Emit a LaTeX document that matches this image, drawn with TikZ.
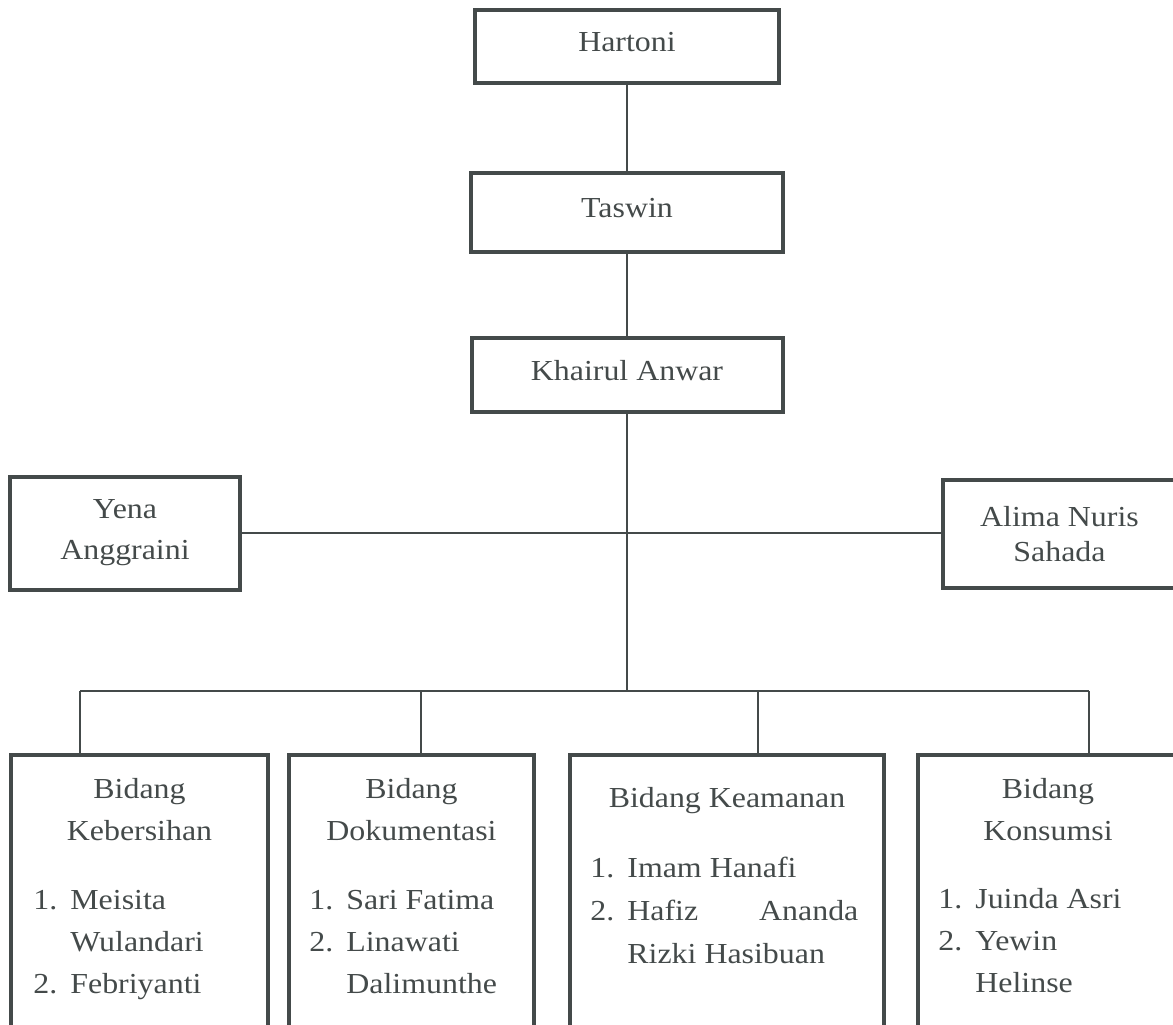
\documentclass[tikz,border=0pt]{standalone}
\usepackage{fontspec}
\setmainfont{Liberation Serif}[FakeStretch=1.1]
\definecolor{ink}{RGB}{68,74,74}
\newcommand{\nomor}[1]{\makebox[18.5pt][l]{#1}}
\newcommand{\lanjut}{\hspace*{18.5pt}}

\begin{document}
\begin{tikzpicture}[x=0.5pt,y=-0.5pt]

	\tikzstyle{box} = [draw=ink, line width=2pt, text=ink, align=center, inner sep=0pt, font=\fontsize{14.5}{21}\selectfont];
	\tikzstyle{teks} = [text=ink, inner sep=0pt, font=\fontsize{14.5}{21}\selectfont];
	\tikzstyle{garis} = [draw=ink, line width=1pt];

	\useasboundingbox (0,0) rectangle (1173,1024);
	\clip (0,0) rectangle (1173,1024);

	% pimpinan
	\node[box, minimum width=152pt, minimum height=36.5pt, text depth=5pt] (hartoni) at (627,46.5) {Hartoni};
	\node[box, minimum width=156pt, minimum height=39.5pt, text depth=5pt, below of=hartoni, node distance=83pt] (taswin) {Taswin};
	\node[box, minimum width=155.5pt, minimum height=37pt, text depth=5pt, below of=taswin, node distance=81.25pt] (khairul) {Khairul Anwar};

	\node[box, minimum width=115pt, minimum height=56.5pt, font=\fontsize{14.5}{20.5}\selectfont] (yena) at (125,533) {Yena\\Anggraini};
	\node[box, minimum width=116.5pt, minimum height=54pt, font=\fontsize{14.5}{17.5}\selectfont] (alima) at (1059.5,534) {Alima Nuris\\Sahada};

	% bidang
	\node[box, minimum width=128.5pt, minimum height=137.5pt] (kebersihan) at (139.5,892.5) {};
	\node[box, minimum width=122.5pt, minimum height=137.5pt] (dokumentasi) at (411.5,892.5) {};
	\node[box, minimum width=157pt, minimum height=137.5pt] (keamanan) at (727,892.5) {};
	\node[box, minimum width=131pt, minimum height=137.5pt] (konsumsi) at (1049,892.5) {};

	\node[teks, align=center, anchor=north] (kebersihanjudul) at (139.5,778) {Bidang\\Kebersihan};
	\node[teks, align=center, anchor=north] (dokumentasijudul) at (411.5,778) {Bidang\\Dokumentasi};
	\node[teks, align=center, anchor=north] (keamananjudul) at (727,787) {Bidang Keamanan};
	\node[teks, align=center, anchor=north] (konsumsijudul) at (1048,778) {Bidang\\Konsumsi};

	\node[teks, align=left, anchor=north west] (kebersihanisi) at (33,890) {\nomor{1.}Meisita\\\lanjut Wulandari\\\nomor{2.}Febriyanti};
	\node[teks, align=left, anchor=north west] (dokumentasiisi) at (309,890) {\nomor{1.}Sari Fatima\\\nomor{2.}Linawati\\\lanjut Dalimunthe};
	\node[teks, align=left, anchor=north west, font=\fontsize{14.5}{21.5}\selectfont] (keamananisi) at (590,857) {\nomor{1.}Imam Hanafi\\\nomor{2.}\makebox[115.5pt][s]{Hafiz\hfill Ananda}\\\lanjut Rizki Hasibuan};
	\node[teks, align=left, anchor=north west] (konsumsiisi) at (938,888) {\nomor{1.}Juinda Asri\\\nomor{2.}Yewin\\\lanjut Helinse};

	% garis
	\coordinate (simpul) at (627,691);
	\coordinate (cabang1) at (80,691);
	\coordinate (cabang2) at (421,691);
	\coordinate (cabang3) at (758,691);
	\coordinate (cabang4) at (1089,691);

	\draw[garis] (hartoni.south -| simpul) -- (taswin.north -| simpul);
	\draw[garis] (taswin.south -| simpul) -- (khairul.north -| simpul);
	\draw[garis] (khairul.south -| simpul) -- (simpul);
	\draw[garis] (yena.east) -- (yena.east -| alima.west);
	\draw[garis] (cabang1) -- (cabang4);
	\draw[garis] (cabang1) -- (cabang1 |- kebersihan.north);
	\draw[garis] (cabang2) -- (cabang2 |- dokumentasi.north);
	\draw[garis] (cabang3) -- (cabang3 |- keamanan.north);
	\draw[garis] (cabang4) -- (cabang4 |- konsumsi.north);

\end{tikzpicture}
\end{document}
